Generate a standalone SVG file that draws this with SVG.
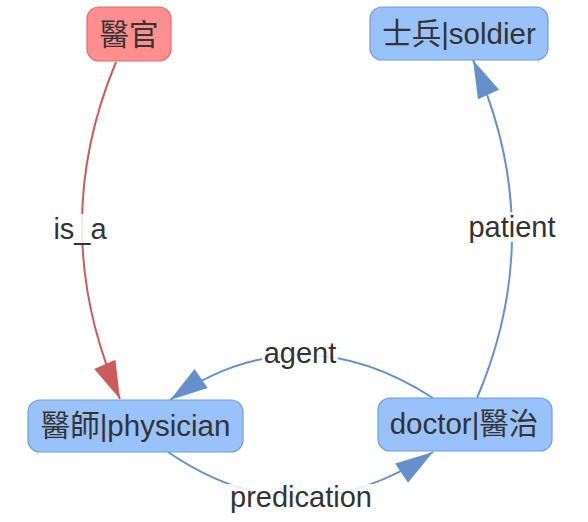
<svg xmlns="http://www.w3.org/2000/svg" width="588" height="522" viewBox="0 0 588 522">
<style>
.node rect{stroke-width:1.2}
.blue rect{fill:#99c2fa;stroke:#6f9dd9}
.red rect{fill:#ff8e8e;stroke:#dd6f6f}
text{font-family:"Liberation Sans","Noto Sans CJK TC",sans-serif;fill:#333;text-anchor:middle}
.nt{font-size:29.5px}
.lt{font-size:29px}
.edge{fill:none;stroke-width:2}
.eb{stroke:#6690cc}
.er{stroke:#cc5c5c}
.lbg{fill:#fff;fill-opacity:0.85}
</style>
<defs>
<marker id="ab" markerUnits="userSpaceOnUse" markerWidth="40" markerHeight="26" viewBox="-37 -12 38 24" refX="0" refY="0" orient="auto">
<path d="M0,0 L-36,-11 L-36,11 Z" fill="#6690cc"/>
</marker>
<marker id="ar" markerUnits="userSpaceOnUse" markerWidth="40" markerHeight="26" viewBox="-37 -12 38 24" refX="0" refY="0" orient="auto">
<path d="M0,0 L-36,-11 L-36,11 Z" fill="#cc5c5c"/>
</marker>
</defs>
<g id="edges">
<path class="edge er" d="M116,62 Q46,230 120,399" marker-end="url(#ar)"/>
<path class="edge eb" d="M433,398 Q298.5,311 170,400" marker-end="url(#ab)"/>
<path class="edge eb" d="M168,452 Q299.5,542 433,452" marker-end="url(#ab)"/>
<path class="edge eb" d="M477,398 Q549,229 473,60" marker-end="url(#ab)"/>
</g>
<g id="edge-labels">
<g id="label-is_a"><rect class="lbg" x="52" y="214" width="56" height="30"/><text class="lt" x="80" y="238.5">is_a</text></g>
<g id="label-agent"><rect class="lbg" x="262" y="340" width="76" height="30"/><text class="lt" x="300" y="362.5">agent</text></g>
<g id="label-predication"><rect class="lbg" x="228" y="484" width="146" height="30"/><text class="lt" x="301" y="506.5">predication</text></g>
<g id="label-patient"><rect class="lbg" x="467" y="212" width="90" height="30"/><text class="lt" x="512" y="236.5">patient</text></g>
</g>
<g id="node-yiguan" class="node red"><rect x="87" y="7" width="84" height="54" rx="12"/><text class="nt" x="129" y="44.5">醫官</text></g>
<g id="node-soldier" class="node blue"><rect x="370" y="7" width="178" height="53" rx="12"/><text class="nt" x="459" y="43.5">士兵|soldier</text></g>
<g id="node-physician" class="node blue"><rect x="28" y="400" width="215" height="52" rx="12"/><text class="nt" x="135.5" y="435.5">醫師|physician</text></g>
<g id="node-doctor" class="node blue"><rect x="378" y="398" width="174" height="53" rx="12"/><text class="nt" x="464" y="433.5">doctor|醫治</text></g>
</svg>
